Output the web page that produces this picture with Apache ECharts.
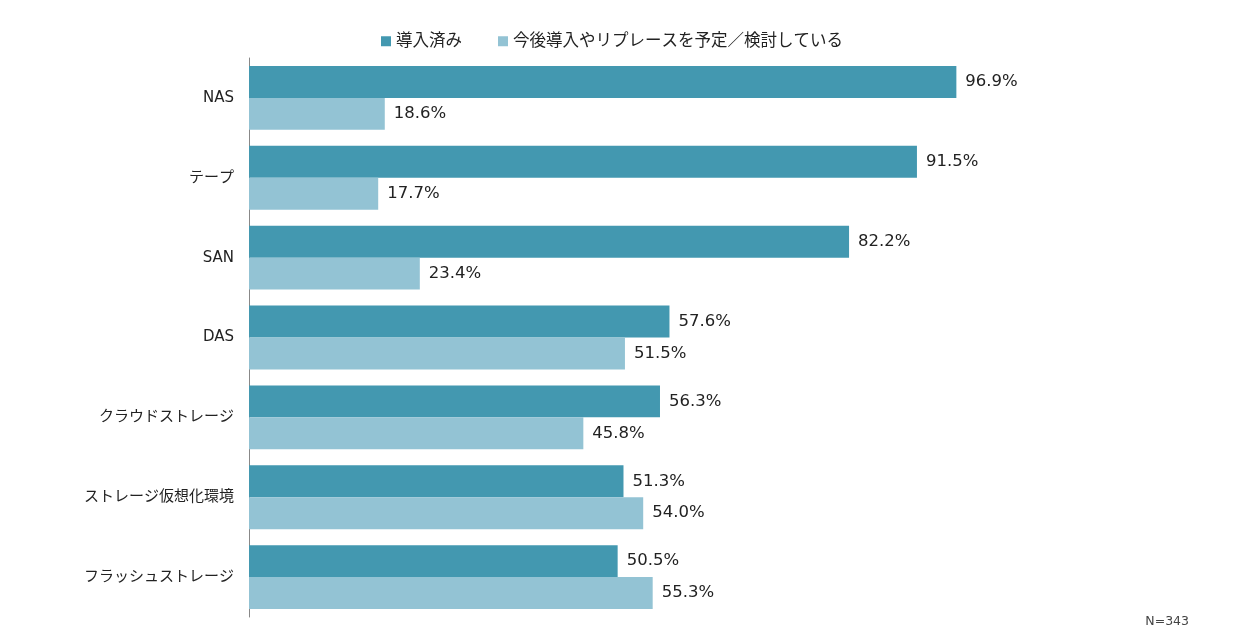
<!DOCTYPE html>
<html>
<head>
<meta charset="utf-8">
<script src="https://cdn.jsdelivr.net/npm/echarts@6/dist/echarts.min.js"></script>
<style>
  html, body { margin: 0; padding: 0; background: #fff; }
  #main { width: 1247px; height: 635px; }
</style>
</head>
<body>
<div id="main"></div>
<script>
// カテゴリ（上から順）
const categories = ['NAS', 'テープ', 'SAN', 'DAS', 'クラウドストレージ', 'ストレージ仮想化環境', 'フラッシュストレージ']
const seriesNames = ['導入済み', '今後導入やリプレースを予定／検討している']
const adopted = [96.9, 91.5, 82.2, 57.6, 56.3, 51.3, 50.5]
const planned = [18.6, 17.7, 23.4, 51.5, 45.8, 54.0, 55.3]
const note = 'N=343'

const FONT = '"DejaVu Sans", "Noto Sans CJK JP", sans-serif'

const chart = echarts.init(document.getElementById('main'))

function barLabel() {
  return {
    show: true,
    position: 'right',
    distance: 9,
    color: '#222',
    fontSize: 16.5,
    fontFamily: FONT,
    formatter: p => p.value.toFixed(1) + '%'
  }
}

const option = {
  animation: false,
  color: ['#4398b0', '#93c3d4'],
  legend: {
    top: 28,
    left: 376,
    itemWidth: 10,
    itemHeight: 10,
    itemGap: 36,
    icon: 'rect',
    textStyle: { fontSize: 16.5, color: '#222', fontFamily: FONT }
  },
  grid: { left: 249, right: 268, top: 58, bottom: 18, containLabel: false },
  xAxis: {
    type: 'value',
    min: 0,
    max: 100,
    show: false
  },
  yAxis: {
    type: 'category',
    data: categories,
    inverse: true,
    axisLine: { show: true, lineStyle: { color: '#888', width: 1 } },
    axisTick: { show: false },
    axisLabel: { fontSize: 15, color: '#222', fontFamily: FONT, margin: 15 }
  },
  series: [
    {
      name: seriesNames[0],
      type: 'bar',
      data: adopted,
      barGap: '0%',
      barCategoryGap: '20%',
      label: barLabel()
    },
    {
      name: seriesNames[1],
      type: 'bar',
      data: planned,
      label: barLabel()
    }
  ],
  graphic: [{
    type: 'text',
    right: 58,
    top: 615,
    style: { text: note, fontSize: 12.5, fill: '#444', fontFamily: FONT }
  }]
}

chart.setOption(option)
</script>
</body>
</html>
